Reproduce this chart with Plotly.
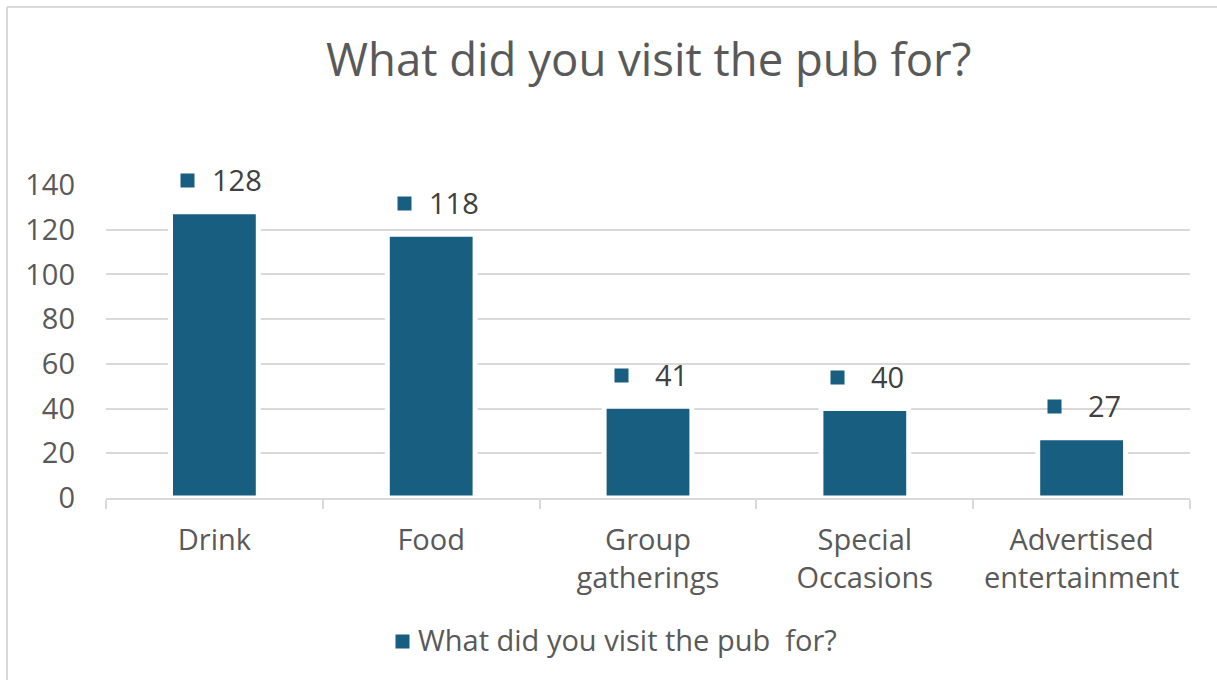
import plotly.graph_objects as go

# Survey results
categories = ["Drink", "Food", "Group<br>gatherings", "Special<br>Occasions", "Advertised<br>entertainment"]
counts = [128, 118, 41, 40, 27]
y_ticks = [0, 20, 40, 60, 80, 100, 120, 140]
series_name = "What did you visit the pub  for?"
chart_title = "What did you visit the pub for?"

W, H = 1217, 680
ML, MR, MT, MB = 106, 27, 185, 182
PW, PH = W - ML - MR, H - MT - MB

BAR = "#185E80"
GRID = "#D9D9D9"
TXT = "#595959"
LBL = "#404040"
FONT = "Open Sans"
FS = 29


def px_x(px):
    return (px - ML) / PW


def px_y(py):
    return (H - MB - py) / PH


fig = go.Figure()
fig.add_trace(go.Bar(
    x=categories, y=counts, name=series_name,
    marker=dict(color=BAR, line=dict(color="white", width=5)),
    width=0.405, showlegend=False, hoverinfo="skip",
))

annotations = []
# data labels with a legend key beside each value
for c, v in zip(categories, counts):
    annotations.append(dict(
        x=c, y=v, xref="x", yref="y", text=" ", showarrow=False,
        width=13, height=13, bgcolor=BAR, borderpad=0,
        xanchor="center", yanchor="middle", xshift=-27, yshift=31,
        font=dict(size=1),
    ))
    annotations.append(dict(
        x=c, y=v, xref="x", yref="y", text=str(v), showarrow=False,
        xanchor="center", yanchor="middle", xshift=23, yshift=32,
        font=dict(family=FONT, size=FS, color=LBL),
    ))

# title
annotations.append(dict(
    x=0.5, y=px_y(58), xref="paper", yref="paper", text=chart_title,
    showarrow=False, xanchor="center", yanchor="middle",
    font=dict(family=FONT, size=45.5, color=TXT),
))

# legend
annotations.append(dict(
    x=px_x(402), y=px_y(641), xref="paper", yref="paper", text=" ",
    showarrow=False, width=13, height=13, bgcolor=BAR, borderpad=0,
    xanchor="center", yanchor="middle", font=dict(size=1),
))
annotations.append(dict(
    x=px_x(416), y=px_y(639), xref="paper", yref="paper", text=series_name.replace("  ", "&nbsp; "),
    showarrow=False, xanchor="left", yanchor="middle",
    font=dict(family=FONT, size=FS, color=TXT),
))

shapes = [
    dict(type="line", xref="paper", yref="paper",
         x0=px_x(7), x1=px_x(W + 5), y0=px_y(7), y1=px_y(7),
         line=dict(color=GRID, width=2)),
    dict(type="line", xref="paper", yref="paper",
         x0=px_x(7), x1=px_x(7), y0=px_y(7), y1=px_y(H + 5),
         line=dict(color=GRID, width=2)),
]

fig.update_layout(
    width=W, height=H,
    margin=dict(l=ML, r=MR, t=MT, b=MB),
    paper_bgcolor="white", plot_bgcolor="white",
    font=dict(family=FONT, size=FS, color=TXT),
    annotations=annotations, shapes=shapes,
    showlegend=False,
    xaxis=dict(
        showgrid=False, showline=True, linecolor=GRID, linewidth=2,
        ticks="outside", tickson="boundaries", ticklen=9, tickcolor=GRID, tickwidth=2,
        tickfont=dict(family=FONT, size=FS, color=TXT),
        ticklabelstandoff=15,
        range=[-0.5, len(categories) - 0.5],
    ),
    yaxis=dict(
        range=[0, 140], tickvals=y_ticks,
        showgrid=True, gridcolor=GRID, gridwidth=2,
        zeroline=False, showline=False, ticks="",
        tickfont=dict(family=FONT, size=FS, color=TXT),
        ticklabelstandoff=30,
    ),
)

fig.write_html("out.html")
